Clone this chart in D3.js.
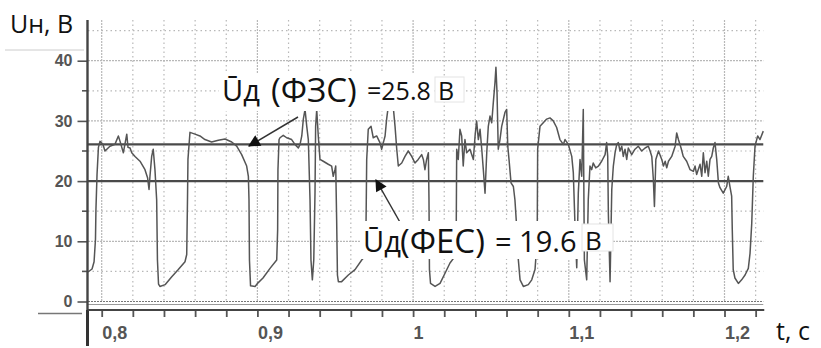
<!DOCTYPE html>
<html><head><meta charset="utf-8">
<script src="https://cdn.jsdelivr.net/npm/d3@7"></script>
<style>body{margin:0;background:#fff;} svg{display:block;}</style>
</head><body><svg id="c" width="821" height="348"></svg>
<script>
// ---- data ----
const time = [0.7912,0.7938,0.7951,0.7960,0.7963,0.7970,0.7979,0.7989,0.8008,0.8021,
0.8053,0.8085,0.8107,0.8118,0.8139,0.8161,0.8169,0.8182,0.8193,0.8214,
0.8246,0.8278,0.8295,0.8304,0.8310,0.8321,0.8331,0.8342,0.8353,0.8358,
0.8365,0.8374,0.8407,0.8450,0.8492,0.8535,0.8546,0.8551,0.8554,0.8567,
0.8599,0.8631,0.8663,0.8706,0.8749,0.8792,0.8835,0.8867,0.8899,0.8931,
0.8942,0.8946,0.8949,0.8956,0.8985,0.9004,0.9036,0.9081,0.9124,0.9130,
0.9132,0.9139,0.9145,0.9166,0.9188,0.9220,0.9241,0.9263,0.9274,0.9285,
0.9295,0.9306,0.9317,0.9327,0.9338,0.9344,0.9353,0.9362,0.9370,0.9374,
0.9381,0.9391,0.9402,0.9423,0.9455,0.9477,0.9487,0.9498,0.9503,0.9509,
0.9514,0.9520,0.9541,0.9584,0.9627,0.9670,0.9691,0.9698,0.9702,0.9712,
0.9730,0.9744,0.9766,0.9787,0.9798,0.9809,0.9820,0.9830,0.9841,0.9863,
0.9873,0.9884,0.9895,0.9905,0.9927,0.9948,0.9969,0.9991,1.0012,1.0033,
1.0055,1.0066,1.0076,1.0087,1.0098,1.0102,1.0105,1.0112,1.0141,1.0173,
1.0205,1.0237,1.0269,1.0277,1.0280,1.0290,1.0301,1.0312,1.0322,1.0333,
1.0344,1.0365,1.0387,1.0398,1.0408,1.0419,1.0430,1.0441,1.0451,1.0462,
1.0473,1.0483,1.0494,1.0505,1.0515,1.0526,1.0532,1.0539,1.0547,1.0558,
1.0569,1.0590,1.0601,1.0608,1.0616,1.0629,1.0644,1.0654,1.0665,1.0676,
1.0687,1.0708,1.0740,1.0762,1.0783,1.0797,1.0800,1.0815,1.0836,1.0858,
1.0879,1.0900,1.0922,1.0943,1.0965,1.0976,1.0997,1.1019,1.1029,1.1040,
1.1051,1.1061,1.1072,1.1083,1.1093,1.1100,1.1115,1.1125,1.1136,1.1147,
1.1157,1.1173,1.1190,1.1211,1.1233,1.1243,1.1250,1.1254,1.1265,1.1276,
1.1286,1.1297,1.1308,1.1318,1.1329,1.1340,1.1350,1.1361,1.1372,1.1382,
1.1404,1.1425,1.1446,1.1468,1.1490,1.1511,1.1522,1.1533,1.1543,1.1550,
1.1559,1.1576,1.1597,1.1608,1.1619,1.1629,1.1640,1.1661,1.1683,1.1693,
1.1704,1.1721,1.1735,1.1757,1.1779,1.1800,1.1811,1.1821,1.1843,1.1854,
1.1864,1.1875,1.1886,1.1896,1.1907,1.1918,1.1928,1.1939,1.1950,1.1961,
1.1971,1.1992,1.2014,1.2024,1.2035,1.2046,1.2050,1.2056,1.2067,1.2089,
1.2110,1.2132,1.2153,1.2164,1.2175,1.2185,1.2196,1.2213,1.2228,1.2249];
const voltage = [4.9,5.4,6.6,10.3,15.3,21.1,25.6,26.6,26.1,25.0,
25.8,26.1,27.5,26.6,24.7,27.8,25.6,25.5,24.7,24.1,
23.3,21.9,20.5,18.6,20.8,24.1,25.3,21.9,16.9,6.9,
2.9,2.5,2.8,4.1,5.3,6.6,7.8,16.9,23.6,28.1,
27.8,27.5,26.9,26.5,26.8,27.0,26.5,25.8,24.4,22.5,
20.8,16.9,6.9,2.6,2.5,3.1,3.9,5.5,6.9,11.9,
21.9,26.9,27.2,27.6,27.2,26.9,26.1,25.5,26.1,27.5,
30.3,31.9,29.1,26.9,16.9,6.9,3.6,6.9,18.1,29.1,
31.9,27.5,23.6,23.3,22.8,22.5,20.8,21.9,22.5,13.6,
4.4,3.3,3.3,4.4,5.3,6.9,7.5,13.6,23.6,28.6,
29.1,27.2,27.5,26.4,25.3,26.4,27.5,30.3,32.5,33.0,
32.2,29.1,25.3,22.5,23.0,24.1,25.0,24.1,23.0,23.6,
24.4,23.6,21.9,23.6,24.7,16.9,5.3,3.0,2.5,3.0,
4.7,6.4,7.5,11.9,25.3,23.6,28.6,27.5,22.5,26.9,
24.7,25.3,23.6,27.5,30.0,26.9,28.6,25.3,21.9,18.0,
24.7,29.1,30.8,29.7,33.0,36.4,38.9,34.7,25.3,26.9,
29.1,31.4,31.9,25.8,23.6,19.7,19.1,16.9,12.5,6.9,
3.6,2.5,2.8,3.6,5.3,10.3,25.3,29.1,29.7,30.3,
30.5,30.0,28.9,26.9,26.1,26.9,26.1,24.1,21.4,12.5,
5.6,18.0,23.6,20.8,31.9,6.9,3.6,16.9,22.5,21.9,
23.0,22.2,22.5,23.3,24.4,26.4,24.1,14.7,3.3,18.6,
22.5,24.7,26.1,26.4,25.0,25.8,24.1,25.3,23.6,25.5,
24.4,25.3,25.8,25.0,25.5,25.8,25.0,24.1,20.3,15.8,
23.6,25.0,23.6,22.5,23.3,22.2,23.3,24.1,25.8,28.0,
26.9,25.5,24.1,23.3,21.9,21.6,22.5,21.1,22.8,20.8,
24.7,21.4,23.3,20.8,23.6,24.1,25.5,26.4,23.6,19.7,
18.9,18.0,19.1,20.8,19.1,17.5,11.9,5.3,3.9,3.0,
3.6,4.4,5.5,8.0,13.0,20.8,25.8,27.5,26.9,28.3];
// mean-value lines (levels as drawn in the picture)
const meanLevels = [26.1, 20.0];
const meanNames = ["(ФЗС)", "(ФЕС)"];
const meanTexts = ["=25.8", "= 19.6"];
const xMajorTicks = [0.8, 0.9, 1.0, 1.1, 1.2];
const xTickLabels = ["0,8", "0,9", "1", "1,1", "1,2"];
const yMajorTicks = [0, 10, 20, 30, 40];
const yMinorTicks = [5, 15, 25, 35, 45];
const xDomainEnd = [0.7912, 1.2249];

// ---- drawing ----
const svg = d3.select("#c");
const x = d3.scaleLinear().domain([0.8, 1.2]).range([101.7, 724.5]);
const y = d3.scaleLinear().domain([0, 40]).range([301.5, 60.7]);
const X0 = x(xDomainEnd[0]), X1 = x(xDomainEnd[1]);
const yTop = 20;

svg.append("rect").attr("width", 821).attr("height", 348).attr("fill", "#fff");

// grid
const xMinor = d3.range(0.80, 1.2201, 0.02).map(v => +v.toFixed(2));
const g = svg.append("g");
g.selectAll(".vg").data(xMinor).join("line")
  .attr("x1", d => x(d)).attr("x2", d => x(d))
  .attr("y1", yTop).attr("y2", y(0))
  .attr("stroke", "#b8b8b8").attr("stroke-width", 1.2)
  .attr("stroke-dasharray", d => xMajorTicks.some(m => Math.abs(m - d) < 1e-6) ? "2,1" : "1.5,3");
g.selectAll(".hg").data(yMajorTicks.slice(1).concat(yMinorTicks)).join("line")
  .attr("x1", X0).attr("x2", X1)
  .attr("y1", d => y(d)).attr("y2", d => y(d))
  .attr("stroke", "#b8b8b8").attr("stroke-width", 1.2)
  .attr("stroke-dasharray", d => d % 10 === 0 ? "2,1" : "1.5,3");
// zero line (double)
g.append("line").attr("x1", X0).attr("x2", X1).attr("y1", y(0)).attr("y2", y(0))
  .attr("stroke", "#777").attr("stroke-width", 1.2).attr("stroke-dasharray", "2,1");
g.append("line").attr("x1", X0).attr("x2", X1).attr("y1", y(0) + 3).attr("y2", y(0) + 3)
  .attr("stroke", "#999").attr("stroke-width", 1);

// mean lines
svg.selectAll(".ml").data(meanLevels).join("line")
  .attr("x1", X0).attr("x2", X1)
  .attr("y1", d => y(d)).attr("y2", d => y(d))
  .attr("stroke", "#4a4a4a").attr("stroke-width", 2.4);

// waveform
const pts = time.map((t, i) => [t, voltage[i]]);
svg.append("path").datum(pts)
  .attr("d", d3.line().x(d => x(d[0])).y(d => y(d[1])))
  .attr("fill", "none").attr("stroke", "#555").attr("stroke-width", 1.5)
  .attr("stroke-linejoin", "round");

// y axis
const yAxis = d3.axisLeft(y).tickValues(yMajorTicks).tickSize(10).tickPadding(5).tickFormat(d3.format("d"));
const ya = svg.append("g").attr("transform", `translate(${X0 - 0.5},0)`).call(yAxis);
ya.select(".domain").remove();
ya.selectAll("line").attr("stroke", "#555").attr("stroke-width", 1.6);
ya.selectAll("text").attr("font-family", "Liberation Sans, Arial, sans-serif")
  .attr("font-size", 16).attr("font-weight", "bold").attr("fill", "#555");
svg.selectAll(".ymin").data(yMinorTicks.filter(d => d < 45)).join("line")
  .attr("x1", X0 - 6).attr("x2", X0).attr("y1", d => y(d)).attr("y2", d => y(d))
  .attr("stroke", "#555").attr("stroke-width", 1.6);
svg.append("line").attr("x1", X0 - 0.5).attr("x2", X0 - 0.5).attr("y1", yTop).attr("y2", 310)
  .attr("stroke", "#444").attr("stroke-width", 2.4);
svg.append("line").attr("x1", X0 - 0.5).attr("x2", X0 - 0.5).attr("y1", 310).attr("y2", 346)
  .attr("stroke", "#333").attr("stroke-width", 3);

// x axis
const xAxis = d3.axisBottom(x).tickValues(xMinor).tickSize(7).tickPadding(6)
  .tickFormat(d => { const k = xMajorTicks.findIndex(m => Math.abs(m - d) < 1e-6); return k >= 0 ? xTickLabels[k] : ""; });
const xa = svg.append("g").attr("transform", "translate(0,310)").call(xAxis);
xa.select(".domain").remove();
xa.selectAll("line").attr("stroke", "#555").attr("stroke-width", 1.8);
xa.selectAll("text").attr("font-family", "Liberation Sans, Arial, sans-serif")
  .attr("font-size", 18).attr("font-weight", "bold").attr("fill", "#555")
  .attr("text-anchor", "start").attr("dx", 0).attr("dy", "0.9em");
svg.append("line").attr("x1", X0).attr("x2", X1 + 1).attr("y1", 310).attr("y2", 310)
  .attr("stroke", "#444").attr("stroke-width", 2.2);

// decorative stray lines
svg.append("line").attr("x1", 5).attr("x2", 84).attr("y1", 50).attr("y2", 50).attr("stroke", "#ccc").attr("stroke-width", 1);
svg.append("line").attr("x1", 38).attr("x2", 82).attr("y1", 313.5).attr("y2", 313.5).attr("stroke", "#777").attr("stroke-width", 1.6);

// axis titles
const font = "Open Sans, Noto Sans, sans-serif";
svg.append("text").attr("x", 10).attr("y", 33).text("Uн, В")
  .attr("font-family", font).attr("font-size", 25).attr("fill", "#111");
svg.append("text").attr("x", 776).attr("y", 340).text("t, c")
  .attr("font-family", font).attr("font-size", 25).attr("fill", "#111");

// arrows
const defs = svg.append("defs");
defs.append("marker").attr("id", "ah").attr("viewBox", "0 0 10 10").attr("refX", 9).attr("refY", 5)
  .attr("markerWidth", 14).attr("markerHeight", 12).attr("markerUnits", "userSpaceOnUse")
  .attr("orient", "auto").append("path").attr("d", "M0,0 L10,5 L0,10 Z").attr("fill", "#111");
const arrows = [[298, 117, 249, 146], [401, 224, 376, 180]];
svg.selectAll(".ar").data(arrows).join("line")
  .attr("x1", d => d[0]).attr("y1", d => d[1]).attr("x2", d => d[2]).attr("y2", d => d[3])
  .attr("stroke", "#333").attr("stroke-width", 1.5).attr("marker-end", "url(#ah)");

// annotation 1
svg.append("rect").attr("x", 219).attr("y", 74).attr("width", 214).attr("height", 37).attr("fill", "#fff");
svg.append("rect").attr("x", 435).attr("y", 77).attr("width", 29).attr("height", 25).attr("fill", "#fff").attr("stroke", "#e4e4e4");
svg.append("text").attr("x", 222).attr("y", 101).text("Ūд").attr("font-family", font).attr("font-size", 29).attr("fill", "#111");
svg.append("text").attr("x", 271).attr("y", 102).text(meanNames[0]).attr("font-family", font).attr("font-size", 33).attr("fill", "#111");
svg.append("text").attr("x", 367).attr("y", 100).text(meanTexts[0]).attr("font-family", font).attr("font-size", 25).attr("fill", "#111");
svg.append("text").attr("x", 438).attr("y", 100).text("В").attr("font-family", font).attr("font-size", 25).attr("fill", "#111");

// annotation 2
svg.append("rect").attr("x", 360).attr("y", 221).attr("width", 223).attr("height", 38).attr("fill", "#fff");
svg.append("rect").attr("x", 582).attr("y", 224).attr("width", 31).attr("height", 27).attr("fill", "#fff").attr("stroke", "#e4e4e4");
svg.append("text").attr("x", 363).attr("y", 252).text("Ūд").attr("font-family", font).attr("font-size", 29).attr("fill", "#111");
svg.append("text").attr("x", 400).attr("y", 253).text(meanNames[1]).attr("font-family", font).attr("font-size", 33).attr("fill", "#111");
svg.append("text").attr("x", 495).attr("y", 252).text(meanTexts[1]).attr("font-family", font).attr("font-size", 29).attr("fill", "#111");
svg.append("text").attr("x", 585).attr("y", 250).text("В").attr("font-family", font).attr("font-size", 26).attr("fill", "#111");
</script></body></html>
